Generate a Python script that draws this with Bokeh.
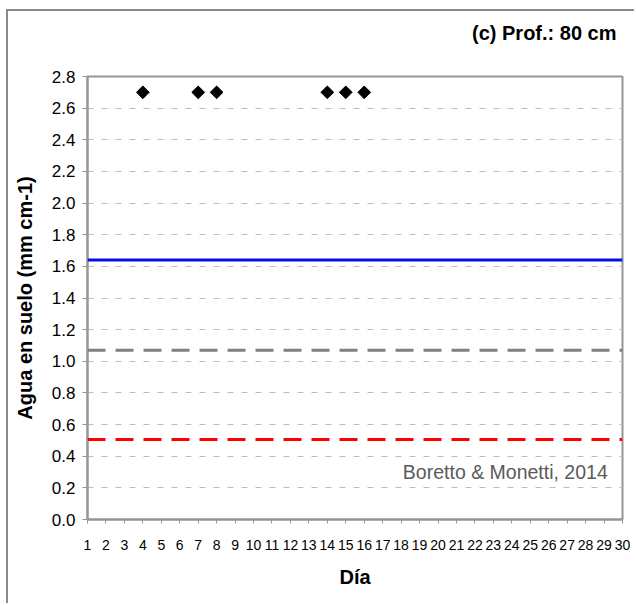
import numpy as np
from bokeh.plotting import figure
from bokeh.models import (Range1d, FixedTicker, PrintfTickFormatter, Span, Label,
                          ColumnDataSource)
from bokeh.embed import file_html
from bokeh.resources import INLINE

# ---- data ----
days = list(range(1, 31))
obs_days = [4, 7, 8, 14, 15, 16]
obs_values = [2.7, 2.7, 2.7, 2.7, 2.7, 2.7]
y_ticks = [0.0, 0.2, 0.4, 0.6, 0.8, 1.0, 1.2, 1.4, 1.6, 1.8, 2.0, 2.2, 2.4, 2.6, 2.8]
capacidad_campo = 1.64     # blue solid line
umbral_riego = 1.07        # gray dashed line
punto_marchitez = 0.505    # red dashed line
title_text = "(c) Prof.: 80 cm"
x_label = "Día"
y_label = "Agua en suelo (mm cm-1)"
source_text = "Boretto & Monetti, 2014"

FONT = "Liberation Sans"

# figure placed at (8, 11) inside the page because of the outer border
p = figure(width=628, height=594, output_backend="svg", toolbar_location=None,
           x_range=Range1d(1, 30), y_range=Range1d(0, 2.8),
           min_border_left=79, min_border_right=14, min_border_top=65,
           min_border_bottom=86)
p.styles = {"border-left": "2px solid #8c8c8c", "border-top": "2px solid #8c8c8c",
            "margin-left": "6px", "margin-top": "9px"}
p.background_fill_color = "white"
p.border_fill_color = "white"
p.outline_line_color = "#969696"
p.outline_line_width = 2

# title (an empty second line lifts it higher above the frame)
p.title.text = title_text + "\n "
p.title.align = "right"
p.title.text_font = FONT
p.title.text_font_size = "20px"
p.title.text_font_style = "bold"
p.title.text_color = "black"
p.title.text_line_height = 1.1
p.title.offset = 6
p.title.standoff = 17

# axes
p.xaxis.ticker = FixedTicker(ticks=days)
p.yaxis.ticker = FixedTicker(ticks=y_ticks)
p.yaxis.formatter = PrintfTickFormatter(format="%.1f")
for ax in (p.xaxis[0], p.yaxis[0]):
    ax.axis_line_color = "#969696"
    ax.axis_line_width = 2
    ax.major_tick_line_color = "#969696"
    ax.major_tick_line_width = 1
    ax.major_tick_in = 0
    ax.minor_tick_line_color = None
    ax.major_label_text_font = FONT
    ax.major_label_text_color = "black"
    ax.axis_label_text_font = FONT
    ax.axis_label_text_font_style = "bold"
    ax.axis_label_text_color = "black"
    ax.axis_label_text_font_size = "20px"

p.xaxis.major_tick_out = 4
p.xaxis.major_label_text_font_size = "14px"
p.xaxis.major_label_standoff = 16
p.xaxis.axis_label = x_label
p.xaxis.axis_label_standoff = 13

p.yaxis.major_tick_out = 5
p.yaxis.major_label_text_font_size = "17px"
p.yaxis.major_label_standoff = 7
p.yaxis.axis_label = y_label
p.yaxis.axis_label_standoff = 13

# grid
p.xgrid.grid_line_color = None
p.ygrid.grid_line_color = "#bdbdbd"
p.ygrid.grid_line_width = 1
p.ygrid.grid_line_dash = "6 8"

# reference lines
p.add_layout(Span(location=capacidad_campo, dimension="width",
                  line_color="#0010e6", line_width=3))
p.add_layout(Span(location=umbral_riego, dimension="width",
                  line_color="#808080", line_width=3, line_dash="18 10"))
p.add_layout(Span(location=punto_marchitez, dimension="width",
                  line_color="#ff0000", line_width=3, line_dash="18 10"))

# observations
src = ColumnDataSource(dict(x=obs_days, y=obs_values))
p.scatter("x", "y", source=src, marker="square", angle=np.pi / 4, size=9,
          fill_color="black", line_color="black")

# source note
p.add_layout(Label(x=29.2, y=0.30, text=source_text, text_align="right",
                   text_baseline="middle", text_font=FONT, text_font_size="19.5px",
                   text_color="#5a5a5a"))

open("out.html", "w").write(file_html(p, INLINE))
